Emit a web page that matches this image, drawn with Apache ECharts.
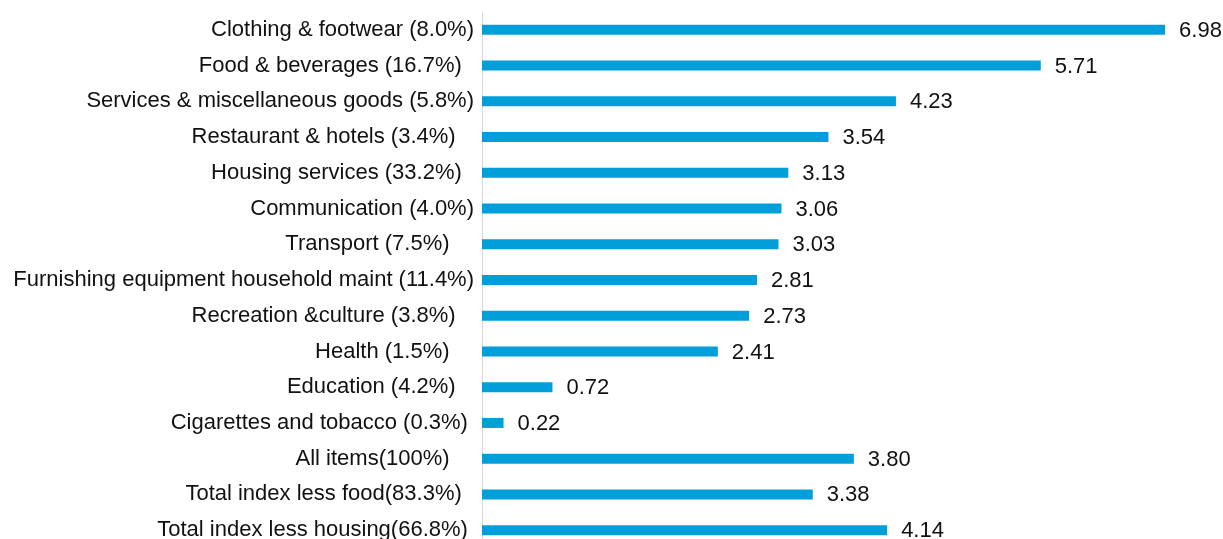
<!DOCTYPE html>
<html>
<head>
<meta charset="utf-8">
<script src="https://cdn.jsdelivr.net/npm/echarts@6/dist/echarts.min.js"></script>
<style>
  html, body { margin: 0; padding: 0; background: #ffffff; }
  #chart { width: 1223px; height: 539px; }
</style>
</head>
<body>
<div id="chart"></div>
<script>
// CPI components (weight in parentheses) and their annual change
const categories = [
  'Clothing & footwear (8.0%)',
  'Food & beverages (16.7%)  ',
  'Services & miscellaneous goods (5.8%)',
  'Restaurant & hotels (3.4%)   ',
  'Housing services (33.2%)  ',
  'Communication (4.0%)',
  'Transport (7.5%)    ',
  'Furnishing equipment household maint (11.4%)',
  'Recreation &culture (3.8%)   ',
  'Health (1.5%)    ',
  'Education (4.2%)   ',
  'Cigarettes and tobacco (0.3%) ',
  'All items(100%)    ',
  'Total index less food(83.3%)  ',
  'Total index less housing(66.8%) '
];
const values = [6.98, 5.71, 4.23, 3.54, 3.13, 3.06, 3.03, 2.81, 2.73, 2.41, 0.72, 0.22, 3.80, 3.38, 4.14];

const chart = echarts.init(document.getElementById('chart'), null, { renderer: 'canvas' });
const fontFamily = '"Liberation Sans", Arial, sans-serif';

chart.setOption({
  animation: false,
  grid: {
    left: 482, top: 12, width: 685, height: 536,
    containLabel: false,
    outerBoundsMode: 'none'
  },
  xAxis: {
    type: 'value',
    min: 0,
    max: 7,
    show: false
  },
  yAxis: {
    type: 'category',
    data: categories,
    inverse: true,
    axisLine: { show: true, lineStyle: { color: '#d9d9d9', width: 1 } },
    axisTick: { show: false },
    axisLabel: {
      margin: 8,
      color: '#111111',
      fontSize: 22,
      fontFamily: fontFamily
    }
  },
  series: [{
    type: 'bar',
    data: values,
    barWidth: 10,
    itemStyle: { color: '#009FDA' },
    label: {
      show: true,
      position: 'right',
      distance: 14,
      offset: [0, 1],
      color: '#111111',
      fontSize: 22,
      fontFamily: fontFamily,
      formatter: p => p.value.toFixed(2)
    }
  }]
});
</script>
</body>
</html>
